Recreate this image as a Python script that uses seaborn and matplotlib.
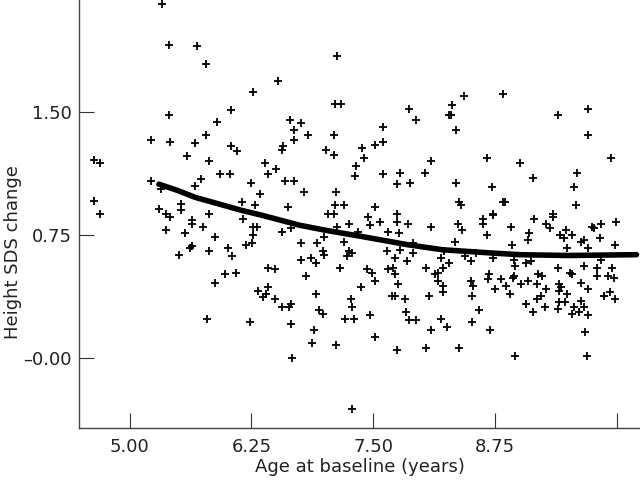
#!/usr/bin/env python3

import pandas as pd
import seaborn as sns
import matplotlib.pyplot as plt

# age at baseline (years) and height SDS change, one entry per child
age = [
    4.63, 4.70, 4.63, 4.70, 5.33, 5.40, 5.69, 5.78, 5.40, 5.90, 5.78, 5.22, 5.41, 5.67, 5.59, 5.81,
    5.93, 5.22, 5.73, 5.67, 5.32, 5.53, 5.30, 5.53, 5.37, 5.81, 5.41, 5.64, 5.64, 5.75, 5.37, 5.57,
    5.88, 5.62, 5.64, 5.51, 5.81, 5.88, 5.79,
    6.04, 6.27, 6.52, 7.13, 7.11, 7.17, 6.64, 6.76, 6.69, 6.83, 7.10, 6.69, 6.04, 6.10, 6.57, 6.56,
    7.01, 7.10, 6.39, 6.42, 6.50, 6.03, 6.25, 6.59, 6.69, 6.34, 6.79, 7.12, 7.11, 7.20, 6.15, 6.29,
    6.62, 7.04, 7.10, 6.16, 6.27, 6.31, 6.27, 6.26, 6.19, 6.01, 6.05, 5.98, 6.09, 6.56, 6.66, 7.13,
    7.25, 6.76, 6.92, 6.99, 7.20, 7.34, 6.76, 6.86, 6.91, 6.98, 6.99, 7.25, 7.28, 7.23, 7.16, 6.42,
    6.49, 6.81, 7.37, 6.32, 6.42, 6.40, 6.37, 6.49, 6.56, 6.63, 6.66, 6.91, 6.94, 6.98, 6.23, 6.66,
    7.27, 7.28, 7.21, 7.30, 6.89, 6.87, 7.12, 6.67, 7.28,
    7.38, 7.40, 7.52, 7.60, 7.60, 7.87, 7.94, 8.31, 8.28, 8.30, 8.43, 8.35, 8.83, 8.09, 8.67, 7.31,
    7.32, 7.60, 7.77, 8.03, 7.74, 7.88, 8.35, 8.72, 8.38, 8.40, 7.52, 7.74, 8.73, 8.83, 7.45, 7.47,
    7.57, 7.65, 7.74, 7.76, 7.86, 7.91, 8.09, 8.34, 8.37, 8.41, 8.63, 8.63, 8.73, 8.67, 7.64, 7.77,
    7.72, 7.91, 7.85, 7.44, 7.49, 7.52, 7.65, 7.70, 7.72, 7.75, 7.69, 7.72, 7.82, 7.47, 7.52, 7.84,
    7.87, 7.94, 7.74, 8.04, 8.19, 8.21, 8.28, 8.13, 8.16, 8.16, 8.21, 8.21, 8.07, 8.09, 8.19, 8.26,
    8.04, 8.38, 8.23, 8.44, 8.50, 8.55, 8.50, 8.52, 8.51, 8.58, 8.51, 8.70, 8.69, 8.68, 8.75, 8.81,
    8.73,
    9.00, 9.14, 9.39, 9.70, 9.70, 9.94, 9.59, 9.56, 8.85, 9.58, 9.34, 8.91, 8.92, 9.15, 9.10, 9.09,
    9.27, 9.31, 9.34, 9.42, 9.46, 9.48, 9.54, 9.63, 9.66, 9.74, 9.76, 9.84, 9.83, 9.99, 9.98, 9.49,
    9.70, 8.94, 8.95, 9.07, 9.12, 9.84, 9.39, 9.66, 9.79, 9.95, 8.94, 8.93, 8.86, 9.02, 9.09, 9.19,
    9.23, 9.52, 9.54, 9.79, 9.91, 9.97, 9.18, 9.27, 9.40, 9.43, 9.41, 9.63, 9.70, 9.49, 8.90, 9.22,
    9.18, 9.87, 9.93, 9.98, 9.07, 9.26, 9.41, 9.47, 9.39, 9.63, 9.56, 9.66, 9.14, 9.54, 9.61, 9.70,
    9.67, 8.95, 9.69,
]
sds_change = [
    1.21, 1.19, 0.96, 0.88, 2.16, 1.91, 1.90, 1.79, 1.48, 1.44, 1.36, 1.33, 1.32, 1.31, 1.23, 1.20,
    1.12, 1.08, 1.09, 1.05, 1.03, 0.94, 0.91, 0.90, 0.88, 0.88, 0.86, 0.84, 0.82, 0.80, 0.78, 0.76,
    0.74, 0.67, 0.68, 0.63, 0.65, 0.46, 0.24,
    1.51, 1.62, 1.69, 1.84, 1.55, 1.55, 1.45, 1.43, 1.39, 1.36, 1.36, 1.33, 1.29, 1.26, 1.29, 1.27,
    1.27, 1.24, 1.19, 1.12, 1.15, 1.12, 1.07, 1.08, 1.08, 1.00, 1.01, 1.01, 0.93, 0.93, 0.95, 0.93,
    0.92, 0.88, 0.88, 0.85, 0.80, 0.80, 0.75, 0.70, 0.69, 0.67, 0.62, 0.51, 0.52, 0.77, 0.79, 0.80,
    0.82, 0.70, 0.70, 0.74, 0.71, 0.77, 0.60, 0.61, 0.58, 0.65, 0.63, 0.65, 0.64, 0.62, 0.55, 0.55,
    0.54, 0.50, 0.43, 0.41, 0.43, 0.39, 0.37, 0.36, 0.31, 0.31, 0.33, 0.39, 0.29, 0.27, 0.22, 0.21,
    0.36, 0.31, 0.24, 0.24, 0.17, 0.09, 0.08, 0.00, -0.31,
    1.28, 1.22, 1.30, 1.32, 1.41, 1.52, 1.45, 1.54, 1.48, 1.48, 1.60, 1.39, 1.61, 1.20, 1.22, 1.11,
    1.17, 1.12, 1.13, 1.13, 1.06, 1.07, 1.07, 1.04, 0.95, 0.93, 0.92, 0.88, 0.88, 0.95, 0.86, 0.81,
    0.83, 0.77, 0.83, 0.76, 0.82, 0.70, 0.80, 0.71, 0.82, 0.78, 0.85, 0.82, 0.87, 0.75, 0.65, 0.66,
    0.61, 0.64, 0.59, 0.54, 0.52, 0.47, 0.54, 0.55, 0.51, 0.45, 0.38, 0.38, 0.36, 0.26, 0.13, 0.28,
    0.23, 0.23, 0.05, 0.55, 0.61, 0.55, 0.58, 0.51, 0.52, 0.47, 0.44, 0.40, 0.38, 0.17, 0.24, 0.19,
    0.06, 0.06, 0.65, 0.62, 0.59, 0.64, 0.47, 0.44, 0.38, 0.29, 0.22, 0.17, 0.51, 0.48, 0.42, 0.48,
    0.61,
    1.19, 1.10, 1.48, 1.52, 1.36, 1.22, 1.13, 1.04, 0.95, 0.93, 0.88, 0.80, 0.69, 0.85, 0.76, 0.72,
    0.82, 0.79, 0.86, 0.75, 0.73, 0.78, 0.75, 0.71, 0.72, 0.80, 0.79, 0.82, 0.73, 0.83, 0.69, 0.67,
    0.67, 0.60, 0.56, 0.58, 0.59, 0.60, 0.55, 0.56, 0.55, 0.55, 0.50, 0.49, 0.44, 0.45, 0.47, 0.51,
    0.50, 0.52, 0.51, 0.50, 0.50, 0.49, 0.45, 0.42, 0.45, 0.43, 0.41, 0.46, 0.42, 0.39, 0.39, 0.38,
    0.36, 0.38, 0.40, 0.36, 0.33, 0.31, 0.34, 0.34, 0.30, 0.35, 0.31, 0.31, 0.28, 0.27, 0.28, 0.26,
    0.16, 0.01, 0.01,
]

# smoothed fit
fit_age = [5.30, 5.50, 5.67, 5.91, 6.15, 6.36, 6.74, 7.00, 7.39, 7.86, 8.21, 8.72, 9.00, 9.50, 10.20]
fit_sds = [1.06, 1.02, 0.98, 0.94, 0.90, 0.87, 0.81, 0.78, 0.74, 0.69, 0.66, 0.64, 0.63, 0.625, 0.63]

x_ticks = [5.00, 6.25, 7.50, 8.75, 10.00]
x_labels = ["5.00", "6.25", "7.50", "8.75", ""]
y_ticks = [0.00, 0.75, 1.50]
y_labels = ["\u20130.00", "0.75", "1.50"]

sns.set_style("white")
plt.rcParams["font.family"] = ["DejaVu Sans"]

df = pd.DataFrame({"age": age, "sds": sds_change})
fit = pd.DataFrame({"age": fit_age, "sds": fit_sds})

fig = plt.figure(figsize=(6.4, 4.86), dpi=100)
ax = fig.add_axes([0.1234, 0.1193, 0.8766, 0.8807])

sns.scatterplot(data=df, x="age", y="sds", marker="+", s=30, color="black",
                linewidth=1.3, ax=ax)
sns.lineplot(data=fit, x="age", y="sds", color="black", linewidth=4, ax=ax)

ax.set_xlim(4.48, 10.236)
ax.set_ylim(-0.427, 2.183)
ax.set_xticks(x_ticks)
ax.set_xticklabels(x_labels)
ax.set_yticks(y_ticks)
ax.set_yticklabels(y_labels)
ax.tick_params(direction="in", length=11, width=0.8, color="#333333",
               labelsize=13, labelcolor="#222222", bottom=True, left=True)
ax.tick_params(axis="x", pad=7)
ax.tick_params(axis="y", pad=5)

for side in ["top", "right"]:
    ax.spines[side].set_visible(False)
for side in ["left", "bottom"]:
    ax.spines[side].set_color("#444444")
    ax.spines[side].set_linewidth(1.0)

ax.set_xlabel("Age at baseline (years)", fontsize=13, color="#222222")
ax.set_ylabel("Height SDS change", fontsize=13, color="#222222")
ax.xaxis.set_label_coords(0.5, -0.07)
ax.yaxis.set_label_coords(-0.102, 0.41)

fig.savefig("out.png", dpi=100)
